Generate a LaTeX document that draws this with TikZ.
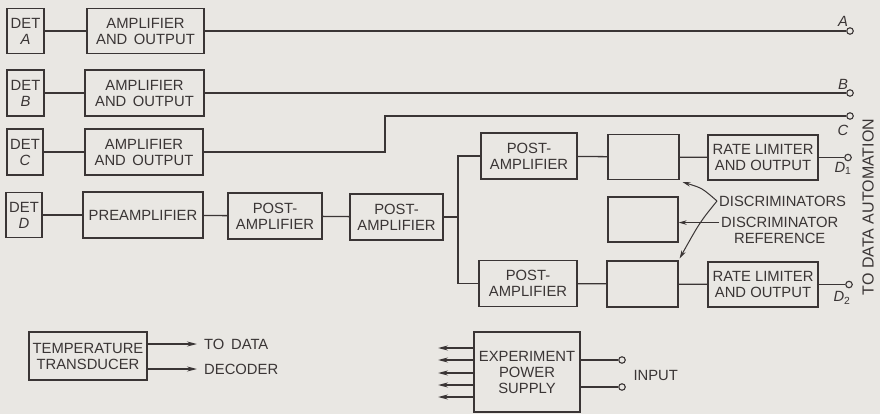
\documentclass[tikz,border=0pt]{standalone}
\usepackage{fontspec}
\setmainfont{Liberation Sans}
\usetikzlibrary{arrows.meta,calc}
\definecolor{bg}{HTML}{E9E7E3}
\definecolor{ink}{HTML}{3A3535}
\begin{document}
\begin{tikzpicture}[x=1pt,y=-1pt,
  every node/.style={text=ink,font=\fontsize{14.8}{16}\selectfont},
  blk/.style={draw=ink,line width=1.3pt,rectangle,inner sep=0pt,align=center},
  wire/.style={draw=ink,line width=1.3pt},
  arr/.style={wire,-{Stealth[length=10pt,width=5pt]}},
  parr/.style={draw=ink,line width=1pt,-{Stealth[length=8pt,width=4.5pt]}},
  term/.style={circle,draw=ink,line width=1.1pt,fill=bg,inner sep=0pt,minimum size=6.5pt},
  lbl/.style={font=\fontsize{14.8}{16}\selectfont\itshape}]
\fill[bg] (0,0) rectangle (880,414);
\useasboundingbox (0,0) rectangle (880,414);

% channel A
\node[blk,minimum width=37,minimum height=45] (detA) at (25.5,31) {DET\\\textit{A}};
\node[blk,minimum width=117,minimum height=45] (ampA) at (145.5,31) {AMPLIFIER\\AND\, OUTPUT};
\node[term] (tA) at (850,31) {};
\node[lbl] (lA) at (843,21) {A};
\draw[wire] (detA) -- (ampA);
\draw[wire] (ampA) -- (tA);

% channel B
\node[blk,minimum width=37,minimum height=46] (detB) at (25.5,93) {DET\\\textit{B}};
\node[blk,minimum width=119,minimum height=46] (ampB) at (144.5,93) {AMPLIFIER\\AND\, OUTPUT};
\node[term] (tB) at (850,93) {};
\node[lbl] (lB) at (843,84) {B};
\draw[wire] (detB) -- (ampB);
\draw[wire] (ampB) -- (tB);

% channel C
\node[blk,minimum width=36,minimum height=46] (detC) at (25,152) {DET\\\textit{C}};
\node[blk,minimum width=118,minimum height=46] (ampC) at (144,152) {AMPLIFIER\\AND\, OUTPUT};
\node[term] (tC) at (850,116) {};
\node[lbl] (lC) at (843,130) {C};
\coordinate (cb) at (385,116);
\draw[wire] (detC) -- (ampC);
\draw[wire] (ampC.east) -| (cb) -- (tC);

% channel D
\node[blk,minimum width=36,minimum height=45] (detD) at (24,215) {DET\\\textit{D}};
\node[blk,minimum width=120,minimum height=46] (pre) at (143,215) {PREAMPLIFIER};
\node[blk,minimum width=94,minimum height=46] (post1) at (275,216) {POST-\\AMPLIFIER};
\node[blk,minimum width=93,minimum height=46] (post2) at (396.5,217) {POST-\\AMPLIFIER};
\draw[wire] (detD) -- (pre);
\draw[wire] (pre) -- (post1);
\draw[wire] (post1) -- (post2);
\coordinate (sp) at (458,217);

\node[blk,minimum width=96,minimum height=46] (postU) at (529,156) {POST-\\AMPLIFIER};
\node[blk,minimum width=71,minimum height=45] (discU) at (643.5,157) {};
\node[blk,minimum width=110,minimum height=45] (rateU) at (763,157.5) {RATE LIMITER\\AND OUTPUT};
\node[term] (tD1) at (848,157.5) {};
\node[lbl] (lD1) at (843,168) {D\textsubscript{\upshape 1}};

\node[blk,minimum width=70,minimum height=45] (discR) at (643,219.5) {};

\node[blk,minimum width=98,minimum height=46] (postL) at (528,283.5) {POST-\\AMPLIFIER};
\node[blk,minimum width=71,minimum height=46] (discL) at (642.5,284) {};
\node[blk,minimum width=110,minimum height=45] (rateL) at (763,284.5) {RATE LIMITER\\AND OUTPUT};
\node[term] (tD2) at (849,284.5) {};
\node[lbl] (lD2) at (842,298) {D\textsubscript{\upshape 2}};

\draw[wire] (post2) -- (sp);
\draw[wire] (postU.west) -| (sp) |- (postL.west);
\draw[wire] (postU) -- (discU);
\draw[wire] (discU) -- (rateU);
\draw[wire] (rateU) -- (tD1);
\draw[wire] (postL) -- (discL);
\draw[wire] (discL) -- (rateL);
\draw[wire] (rateL) -- (tD2);

% discriminator labels
\node[anchor=west,inner sep=2pt] (discTxt) at (717,201) {DISCRIMINATORS};
\node[anchor=west,inner sep=2pt,align=center] (refTxt) at (719,230) {DISCRIMINATOR\\REFERENCE};
\coordinate (v) at (discTxt.west);
\coordinate (tipU) at ($(discU.south east)+(3,2)$);
\coordinate (tipL) at ($(discL.north east)+(1,-2)$);
\coordinate (refL) at ($(refTxt.north west)+(0,8)$);
\draw[parr] (v) .. controls (702,188) .. (tipU);
\draw[parr] (v) .. controls (700,222) .. (tipL);
\draw[parr] (refL) -- (discR.east |- refL);

% vertical label
\node[rotate=90,font=\fontsize{16}{18}\selectfont] (auto) at (868,207) {TO DATA AUTOMATION};

% temperature transducer
\node[blk,minimum width=118,minimum height=48] (temp) at (88,356) {TEMPERATURE\\TRANSDUCER};
\node[anchor=west,align=left,inner sep=0pt,font=\fontsize{14.8}{25}\selectfont] (dec) at (204,356.5) {TO\, DATA\\DECODER};
\coordinate (td1) at (197,344);
\coordinate (td2) at (197,369);
\draw[arr] (temp.east |- td1) -- (td1);
\draw[arr] (temp.east |- td2) -- (td2);

% experiment power supply
\node[blk,minimum width=106,minimum height=80] (ps) at (527,372) {EXPERIMENT\\POWER\\SUPPLY};
\foreach \i/\yy in {1/348,2/360,3/373,4/385,5/397}{
  \coordinate (p\i) at (438,\yy);
  \draw[arr] (ps.west |- p\i) -- (p\i);
}
\node[term] (in1) at (622,360) {};
\node[term] (in2) at (622,387) {};
\draw[wire] (ps.east |- in1) -- (in1);
\draw[wire] (ps.east |- in2) -- (in2);
\node[anchor=west] (inp) at (630,375) {INPUT};
\end{tikzpicture}
\end{document}
